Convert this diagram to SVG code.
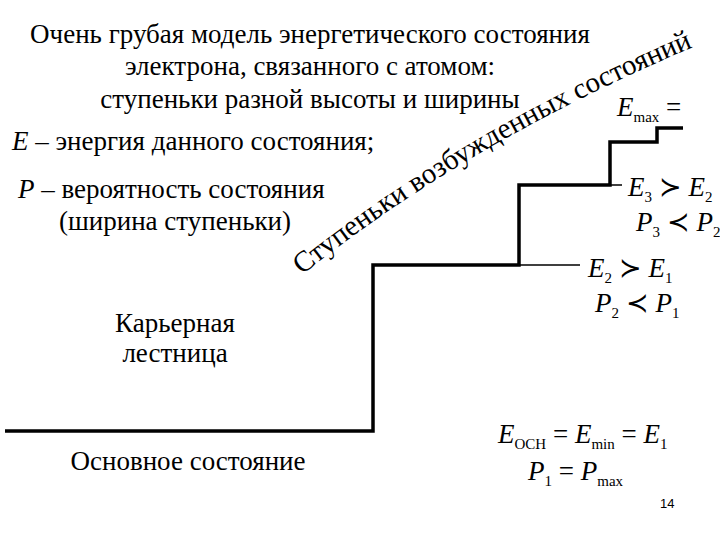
<svg xmlns="http://www.w3.org/2000/svg" width="720" height="540" viewBox="0 0 720 540">
<style>
text{font-family:Liberation Serif,serif;font-size:27px;fill:#000}
.m{font-style:italic;font-size:27px}
.s{font-size:15px;font-style:normal}
.thick{stroke:#000;stroke-width:3.5;fill:none}
.thin{stroke:#000;stroke-width:1.5;fill:none}
</style>
<defs><path id="arc" d="M302,275 Q470,140 705,42"/></defs>
<rect width="720" height="540" fill="#fff"/>
<g id="title">
<text x="310" y="43" text-anchor="middle">Очень грубая модель энергетического состояния</text>
<text x="310" y="75" text-anchor="middle">электрона, связанного с атомом:</text>
<text x="310" y="108" text-anchor="middle">ступеньки разной высоты и ширины</text>
<text x="12" y="150"><tspan font-style="italic">E</tspan> – энергия данного состояния;</text>
<text x="18" y="198"><tspan font-style="italic">P</tspan> – вероятность состояния</text>
<text x="175" y="230" text-anchor="middle">(ширина ступеньки)</text>
</g>
<g id="arcLabel"><text style="font-size:29px"><textPath href="#arc">Ступеньки возбужденных состояний</textPath></text></g>
<g id="connectors">
<path class="thick" d="M5,431 H373 V265 H519 V185 H610 V142 H657 V128 H683"/>
<path class="thin" d="M519,265 H580 M610,185 H622"/>
</g>
<g id="career"><text x="175" y="332" text-anchor="middle">Карьерная</text><text x="175" y="362" text-anchor="middle">лестница</text></g>
<g id="ground"><text x="188" y="470" text-anchor="middle">Основное состояние</text></g>
<g id="emax"><text class="m" x="617" y="116">E<tspan class="s" dy="6">max</tspan><tspan dy="-6" font-style="normal"> =</tspan></text></g>
<g id="e3"><text class="m" x="628" y="196">E<tspan class="s" dy="6">3</tspan><tspan dy="-6" font-style="normal"> ≻ </tspan>E<tspan class="s" dy="6">2</tspan></text>
<text class="m" x="636" y="231">P<tspan class="s" dy="6">3</tspan><tspan dy="-6" font-style="normal"> ≺ </tspan>P<tspan class="s" dy="6">2</tspan></text></g>
<g id="e2"><text class="m" x="588" y="277">E<tspan class="s" dy="6">2</tspan><tspan dy="-6" font-style="normal"> ≻ </tspan>E<tspan class="s" dy="6">1</tspan></text>
<text class="m" x="595" y="312">P<tspan class="s" dy="6">2</tspan><tspan dy="-6" font-style="normal"> ≺ </tspan>P<tspan class="s" dy="6">1</tspan></text></g>
<g id="e1"><text class="m" x="498" y="443">E<tspan class="s" dy="6" font-style="italic">OCH</tspan><tspan dy="-6" font-style="normal"> = </tspan>E<tspan class="s" dy="6">min</tspan><tspan dy="-6" font-style="normal"> = </tspan>E<tspan class="s" dy="6">1</tspan></text>
<text class="m" x="528" y="480">P<tspan class="s" dy="6">1</tspan><tspan dy="-6" font-style="normal"> = </tspan>P<tspan class="s" dy="6">max</tspan></text></g>
<g id="page"><text x="660" y="508" style="font-family:Liberation Sans,sans-serif;font-size:13px">14</text></g>
</svg>
